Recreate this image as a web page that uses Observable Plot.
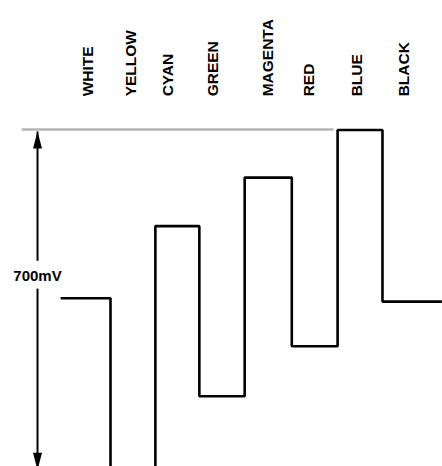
<!DOCTYPE html>
<html>
<head>
<meta charset="utf-8">
<script src="https://cdn.jsdelivr.net/npm/d3@7"></script>
<script src="https://cdn.jsdelivr.net/npm/@observablehq/plot@0.6"></script>
<style>
  html, body { margin: 0; padding: 0; background: #fff; overflow: hidden; }
</style>
</head>
<body>
<div id="chart"></div>
<script>
// Colour-bar names (left to right)
const bars = ["WHITE", "YELLOW", "CYAN", "GREEN", "MAGENTA", "RED", "BLUE", "BLACK"];
// Signal level of each bar, mV (yellow dips below the visible range)
const levels = [0, -360, 150, -204, 251, -100, 350, -7];
// Bar edges, in bar-width units (start of white ... end of black)
const edges = [-0.1, 1, 1.99, 2.96, 3.96, 5, 6.01, 7, 8.31];
// Where each bar name sits, in bar-width units
const labelAt = [0.5, 1.45, 2.28, 3.27, 4.48, 5.38, 6.43, 7.47];
// Full-scale span marked by the arrow
const spanLabel = "700mV";
const spanTop = 350, spanBottom = -350;

const stepPts = bars.map((b, i) => ({x: edges[i], v: levels[i]}))
  .concat([{x: edges[edges.length - 1], v: levels[levels.length - 1]}]);

const labels = bars.map((b, i) => ({name: b, x: labelAt[i], v: 420}));

const arrowX = -0.61;
const shafts = [
  {x: arrowX, v: 78, seg: "top"}, {x: arrowX, v: 347, seg: "top"},
  {x: arrowX, v: 20, seg: "bot"}, {x: arrowX, v: -357, seg: "bot"}
];
const heads = [
  {x: arrowX, v: 347, rot: 0},
  {x: arrowX, v: -357, rot: 180}
];
const headSymbol = {
  draw(ctx) {
    ctx.moveTo(0, 0);
    ctx.lineTo(4.5, 17);
    ctx.lineTo(-4.5, 17);
    ctx.closePath();
  }
};

const refLine = [{x: -0.96, v: spanTop + 1}, {x: 5.92, v: spanTop + 1}];

const chart = Plot.plot({
  width: 442,
  height: 466,
  margin: 0,
  style: {fontFamily: "'Liberation Sans', Arial, sans-serif", background: "#fff"},
  x: {domain: [0, 8], range: [64.67, 427.3], axis: null},
  y: {domain: [spanBottom, spanTop], range: [466, 129.5], axis: null},
  marks: [
    Plot.line(refLine, {x: "x", y: "v", stroke: "#b5b5b5", strokeWidth: 2.6, strokeLinecap: "butt"}),
    Plot.line(stepPts, {x: "x", y: "v", curve: "step-after", stroke: "#000", strokeWidth: 2.6,
      strokeLinejoin: "miter", strokeLinecap: "butt"}),
    Plot.line(shafts, {x: "x", y: "v", z: "seg", stroke: "#000", strokeWidth: 2, strokeLinecap: "butt"}),
    Plot.dot(heads, {x: "x", y: "v", rotate: "rot", symbol: headSymbol, fill: "#000", stroke: "none", r: 5}),
    Plot.text([{x: arrowX, v: 46}], {x: "x", y: "v", text: () => spanLabel, fontSize: 15, fontWeight: "bold", fill: "#000"}),
    Plot.text(labels, {x: "x", y: "v", text: "name", rotate: -90, textAnchor: "start",
      fontSize: 15.5, fontWeight: "bold", fill: "#000"})
  ]
});
document.getElementById("chart").appendChild(chart);
</script>
</body>
</html>
